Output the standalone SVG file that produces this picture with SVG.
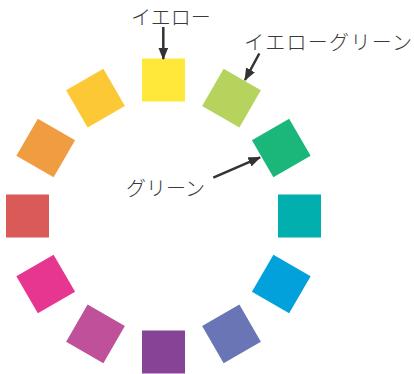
<svg xmlns="http://www.w3.org/2000/svg" width="414" height="374" viewBox="0 0 414 374">
<defs>
<style>
.lbl{font-family:"Noto Sans CJK JP","Noto Sans",sans-serif;font-size:20px;fill:#3a3a3a;font-weight:300}
.arr{stroke:#333;stroke-width:2.5;fill:none;marker-end:url(#ah)}
</style>
<marker id="ah" markerWidth="5" markerHeight="4" refX="4.6" refY="2" orient="auto" markerUnits="strokeWidth">
<path d="M0,0 L5,2 L0,4 Z" fill="#333"/>
</marker>
</defs>
<rect width="414" height="374" fill="#fff"/>
<g id="wheel">
<g id="yellow"><rect x="142" y="58.5" width="43" height="43" fill="#FFE83A"/></g>
<g id="yellowgreen"><rect x="142" y="58.5" width="43" height="43" fill="#B5D35D" transform="rotate(30 163.5 216)"/></g>
<g id="green"><rect x="142" y="58.5" width="43" height="43" fill="#1BB77A" transform="rotate(60 163.5 216)"/></g>
<g id="teal"><rect x="142" y="58.5" width="43" height="43" fill="#00AFAE" transform="rotate(90 163.5 216)"/></g>
<g id="blue"><rect x="142" y="58.5" width="43" height="43" fill="#02A1DB" transform="rotate(120 163.5 216)"/></g>
<g id="indigo"><rect x="142" y="58.5" width="43" height="43" fill="#6A75B5" transform="rotate(150 163.5 216)"/></g>
<g id="purple"><rect x="142" y="58.5" width="43" height="43" fill="#874497" transform="rotate(180 163.5 216)"/></g>
<g id="redpurple"><rect x="142" y="58.5" width="43" height="43" fill="#BF519A" transform="rotate(210 163.5 216)"/></g>
<g id="magenta"><rect x="142" y="58.5" width="43" height="43" fill="#E63690" transform="rotate(240 163.5 216)"/></g>
<g id="red"><rect x="142" y="58.5" width="43" height="43" fill="#DA5A58" transform="rotate(270 163.5 216)"/></g>
<g id="orange"><rect x="142" y="58.5" width="43" height="43" fill="#F09C40" transform="rotate(300 163.5 216)"/></g>
<g id="yelloworange"><rect x="142" y="58.5" width="43" height="43" fill="#FDC835" transform="rotate(330 163.5 216)"/></g>
</g>
<g id="labels">
<g id="lbl-yellow"><text class="lbl" x="131" y="25">イエロー</text></g>
<g id="lbl-yellowgreen"><text class="lbl" x="244" y="50" textLength="168">イエローグリーン</text></g>
<g id="lbl-green"><text class="lbl" x="126" y="196">グリーン</text></g>
</g>
<g id="connectors">
<line class="arr" x1="163.3" y1="27" x2="163.3" y2="59"/>
<line class="arr" x1="259.3" y1="53.5" x2="245" y2="80"/>
<line class="arr" x1="213.3" y1="177.7" x2="260" y2="157.3"/>
</g>
</svg>
